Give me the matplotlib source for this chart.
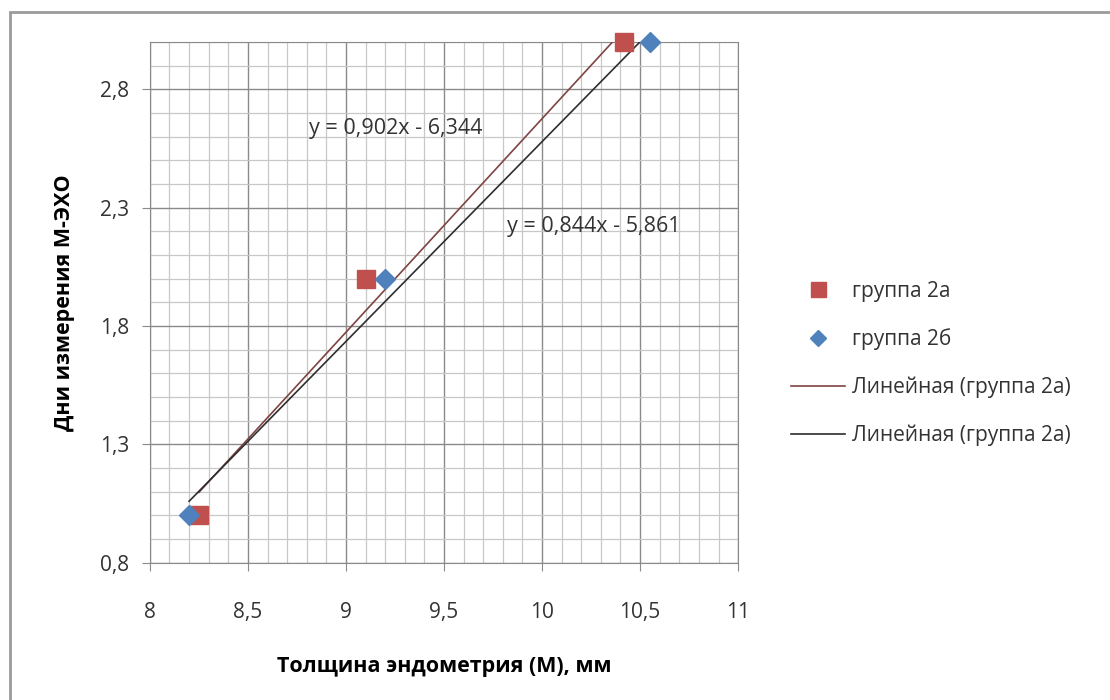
import numpy as np
import matplotlib.pyplot as plt
from matplotlib.patches import Rectangle
from matplotlib.ticker import MultipleLocator, FuncFormatter

plt.rcParams['font.family'] = ['Open Sans', 'DejaVu Sans']

# measurements: endometrium thickness (mm) vs day of measurement
x_2a = [8.25, 9.1, 10.42]
y_2a = [1, 2, 3]
x_2b = [8.2, 9.2, 10.55]
y_2b = [1, 2, 3]

# linear trend coefficients (slope, intercept)
fit_2a = (0.902, -6.344)
fit_2b = (0.844, -5.861)

label_2a = "группа 2а"
label_2b = "группа 2б"
trend_label = "Линейная (группа 2а)"

y_ticks = [0.8, 1.3, 1.8, 2.3, 2.8]

fig = plt.figure(figsize=(11.1, 7), dpi=100)
ax = fig.add_axes([0.135, 0.196, 0.530, 0.744])

ax.plot(x_2a, y_2a, 's', color='#C0504D', markersize=13.5, label=label_2a,
        clip_on=False, zorder=4)
ax.plot(x_2b, y_2b, 'D', color='#4F81BD', markersize=10, label=label_2b,
        clip_on=False, zorder=5)

# trendlines over each series' x range
for xs, (k, b), col in [(x_2a, fit_2a, '#7e4442'), (x_2b, fit_2b, '#2e2e2e')]:
    xx = np.array([min(xs), max(xs)])
    ax.plot(xx, k * xx + b, color=col, lw=1.2, label=trend_label, zorder=3)

ax.text(8.81, 2.636, "y = 0,902x - 6,344", fontsize=15.5, va='center', color='#333333')
ax.text(9.82, 2.219, "y = 0,844x - 5,861", fontsize=15.5, va='center', color='#333333')

ax.set_xlim(8, 11)
ax.set_ylim(0.8, 3.0)
ax.xaxis.set_major_locator(MultipleLocator(0.5))
ax.xaxis.set_minor_locator(MultipleLocator(0.1))
ax.set_yticks(y_ticks)
ax.yaxis.set_minor_locator(MultipleLocator(0.1))
ax.xaxis.set_major_formatter(FuncFormatter(lambda v, p: f"{v:g}".replace('.', ',')))
ax.yaxis.set_major_formatter(FuncFormatter(lambda v, p: f"{v:.1f}".replace('.', ',')))

ax.grid(which='major', color='#8a8a8a', lw=1.0)
ax.grid(which='minor', color='#c8c8c8', lw=0.9)
ax.set_axisbelow(True)
for s in ax.spines.values():
    s.set_color('#8a8a8a')
ax.tick_params(which='major', direction='out', length=6, color='#8a8a8a',
               labelsize=15, labelcolor='#333333')
ax.tick_params(axis='x', which='major', pad=22)
ax.tick_params(axis='y', which='major', pad=9)
ax.tick_params(which='minor', length=0)

ax.set_xlabel("Толщина эндометрия (М), мм", fontsize=15.5, fontweight='bold', labelpad=24)
ax.set_ylabel("Дни измерения М-ЭХО", fontsize=15.5, fontweight='bold', labelpad=18)

ax.legend(loc='upper left', bbox_to_anchor=(0.696, 0.626), bbox_transform=fig.transFigure,
          frameon=False, fontsize=15, handlelength=2.6, handletextpad=0.3,
          labelspacing=1.27, labelcolor='#333333', markerscale=0.8)

# chart outline
fig.patches.append(Rectangle((0.009, -0.02), 1.02, 1.003, transform=fig.transFigure,
                             fill=False, edgecolor='#9a9a9a', lw=2))

fig.savefig("out.png", dpi=100)
